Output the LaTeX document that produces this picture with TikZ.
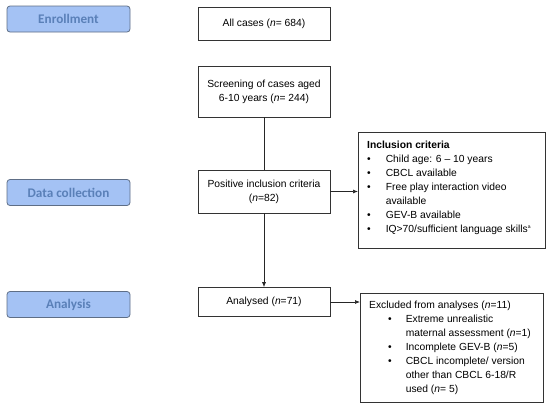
\documentclass[tikz,border=0pt]{standalone}
\usepackage{fontspec}
\setmainfont{Liberation Sans}
\newfontfamily\labelfont{Carlito}
\usetikzlibrary{arrows.meta}

\definecolor{phasefill}{HTML}{A4C2F4}
\definecolor{phasedraw}{HTML}{5E6E86}
\definecolor{phasetext}{HTML}{5A80B8}

\begin{document}
\begin{tikzpicture}[
  x=1pt, y=-1pt,
  font=\fontsize{10.3}{14}\selectfont,
  phase/.style={draw=phasedraw, fill=phasefill, rounded corners=3pt,
                minimum width=123pt, minimum height=26pt, line width=0.8pt,
                text=phasetext, font=\labelfont\bfseries\fontsize{13.2}{14}\selectfont},
  stage/.style={draw=black!80, align=center, minimum width=132pt,
                line width=0.7pt, inner sep=2pt},
  listbox/.style={draw=black!80, line width=0.7pt, anchor=north west, inner sep=0pt},
  listtext/.style={anchor=north west, inner sep=0pt, align=left},
  flow/.style={-{Latex[length=5pt,width=4pt]}, line width=0.7pt, black!85},
]
  \useasboundingbox (0,0) rectangle (550,405);

  % phases on the left
  \node[phase] (enrol)    at (68.5,19)    {Enrollment};
  \node[phase] (collect)  at (68.5,192.5) {Data collection};
  \node[phase] (analysis) at (68.5,304.5) {Analysis};

  % main column
  \node[stage, minimum height=33pt] (allcases) at (264,23.5)
    {All cases (\textit{n}= 684)};
  \node[stage, minimum height=51pt] (screen) at (264,91.5)
    {Screening of cases aged\\6-10 years (\textit{n}= 244)};
  \node[stage, minimum height=43pt] (positive) at (264,191.5)
    {Positive inclusion criteria\\(\textit{n}=82)};
  \node[stage, minimum height=29pt] (analysed) at (264,302)
    {Analysed (\textit{n}=71)};

  % side boxes
  \node[listbox, minimum width=187pt, minimum height=116pt] (incl) at (358,132) {};
  \node[listtext] (incltext) at ([shift={(9,6.5)}]incl.north west)
    {\begin{tabular}{@{}l@{\hspace{15pt}}l@{}}
      \multicolumn{2}{@{}l@{}}{\textbf{Inclusion criteria}}\\
      \textbullet & Child age: 6 -- 10 years\\
      \textbullet & CBCL available\\
      \textbullet & Free play interaction video\\
                  & available\\
      \textbullet & GEV-B available\\
      \textbullet & IQ>70/sufficient language skills\textsuperscript{\fontsize{5}{5}\selectfont a}
    \end{tabular}};
  \node[listbox, minimum width=183pt, minimum height=109pt] (excl) at (360,293) {};
  \node[listtext] (excltext) at ([shift={(9,5.5)}]excl.north west)
    {\begin{tabular}{@{}l@{\hspace{14pt}}l@{}}
      \multicolumn{2}{@{}l@{}}{Excluded from analyses (\textit{n}=11)}\\
      \hspace{19pt}\textbullet & Extreme unrealistic\\
                  & maternal assessment (\textit{n}=1)\\
      \hspace{19pt}\textbullet & Incomplete GEV-B (\textit{n}=5)\\
      \hspace{19pt}\textbullet & CBCL incomplete/ version\\
                  & other than CBCL 6-18/R\\
                  & used (\textit{n}= 5)
    \end{tabular}};

  \draw[line width=0.7pt, black!85] (screen) -- (positive);
  \draw[flow] (positive) -- (incl.west |- positive);
  \draw[flow] (positive) -- (analysed);
  \draw[flow] (analysed) -- (excl.west |- analysed);
\end{tikzpicture}
\end{document}
